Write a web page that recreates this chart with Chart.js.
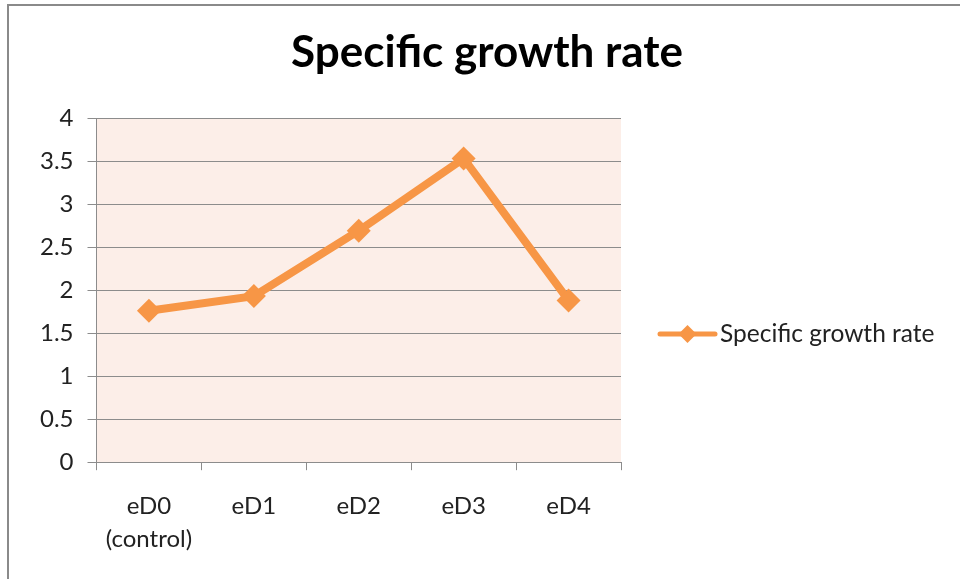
<!DOCTYPE html>
<html>
<head>
<meta charset="utf-8">
<script src="https://cdn.jsdelivr.net/npm/chart.js@4/dist/chart.umd.min.js"></script>
<style>
  body { margin: 0; background: #fff; }
  #wrap { width: 960px; height: 579px; }
</style>
</head>
<body>
<div id="wrap"><canvas id="myChart" width="960" height="579"></canvas></div>
<script>
// chart data
const categories = [['eD0', '(control)'], 'eD1', 'eD2', 'eD3', 'eD4'];
const growthRate = [1.76, 1.93, 2.69, 3.53, 1.88];
const seriesName = 'Specific growth rate';
const chartTitle = 'Specific growth rate';

const orange = '#F79646';
const gridGrey = '#8c8c8c';
const fontFam = 'Lato, "Open Sans", sans-serif';

// frame + plot background (excel look)
const frameAndBg = {
  id: 'frameAndBg',
  beforeDraw(chart) {
    const ctx = chart.ctx, a = chart.chartArea;
    ctx.save();
    ctx.fillStyle = '#fff';
    ctx.fillRect(0, 0, chart.width, chart.height);
    ctx.fillStyle = '#FCEEE8';
    ctx.fillRect(a.left, a.top, a.right - a.left, a.bottom - a.top);
    ctx.strokeStyle = '#8a8a8a';
    ctx.lineWidth = 2;
    ctx.strokeRect(8, 5, chart.width + 20, chart.height + 20);
    ctx.restore();
  }
};

// title centred on the whole canvas + legend on the right
const titleAndLegend = {
  id: 'titleAndLegend',
  afterDraw(chart) {
    const ctx = chart.ctx;
    const ds = chart.data.datasets[0];
    ctx.save();
    ctx.fillStyle = '#000';
    ctx.font = 'bold 44px ' + fontFam;
    ctx.textAlign = 'center';
    ctx.textBaseline = 'alphabetic';
    ctx.fillText(chartTitle, 487, 67);

    const y = 334, x0 = 660, x1 = 715;
    ctx.strokeStyle = ds.borderColor;
    ctx.lineWidth = 5;
    ctx.lineCap = 'round';
    ctx.beginPath();
    ctx.moveTo(x0, y);
    ctx.lineTo(x1, y);
    ctx.stroke();
    ctx.fillStyle = ds.borderColor;
    const cx = (x0 + x1) / 2;
    ctx.beginPath();
    ctx.moveTo(cx, y - 9);
    ctx.lineTo(cx + 9, y);
    ctx.lineTo(cx, y + 9);
    ctx.lineTo(cx - 9, y);
    ctx.closePath();
    ctx.fill();
    ctx.fillStyle = '#222';
    ctx.font = '24.5px ' + fontFam;
    ctx.textAlign = 'left';
    ctx.textBaseline = 'middle';
    ctx.fillText(ds.label, 720, y);
    ctx.restore();
  }
};

const data = {
  labels: categories,
  datasets: [{
    label: seriesName,
    data: growthRate,
    borderColor: orange,
    backgroundColor: orange,
    borderWidth: 8,
    pointStyle: 'rectRot',
    pointRadius: 12,
    pointHoverRadius: 12,
    pointBorderWidth: 0,
    tension: 0
  }]
};

const config = {
  type: 'line',
  data: data,
  options: {
    responsive: false,
    animation: false,
    layout: { padding: { left: 26, right: 339, top: 118, bottom: 4 } },
    plugins: {
      legend: { display: false },
      tooltip: { enabled: false },
      title: { display: false }
    },
    scales: {
      x: {
        offset: true,
        grid: {
          offset: true,
          drawOnChartArea: false,
          tickLength: 8,
          color: gridGrey,
          lineWidth: 1
        },
        border: { color: gridGrey, width: 1 },
        ticks: {
          color: '#222',
          font: { family: fontFam, size: 24, lineHeight: 1.35 },
          padding: 20,
          maxRotation: 0
        }
      },
      y: {
        min: 0,
        max: 4,
        grid: { color: gridGrey, lineWidth: 1, tickLength: 9 },
        border: { color: gridGrey, width: 1 },
        ticks: {
          stepSize: 0.5,
          color: '#222',
          font: { family: fontFam, size: 24 },
          padding: 14,
          callback: v => String(v)
        }
      }
    }
  },
  plugins: [frameAndBg, titleAndLegend]
};

const myChart = new Chart(document.getElementById('myChart'), config);
</script>
</body>
</html>
